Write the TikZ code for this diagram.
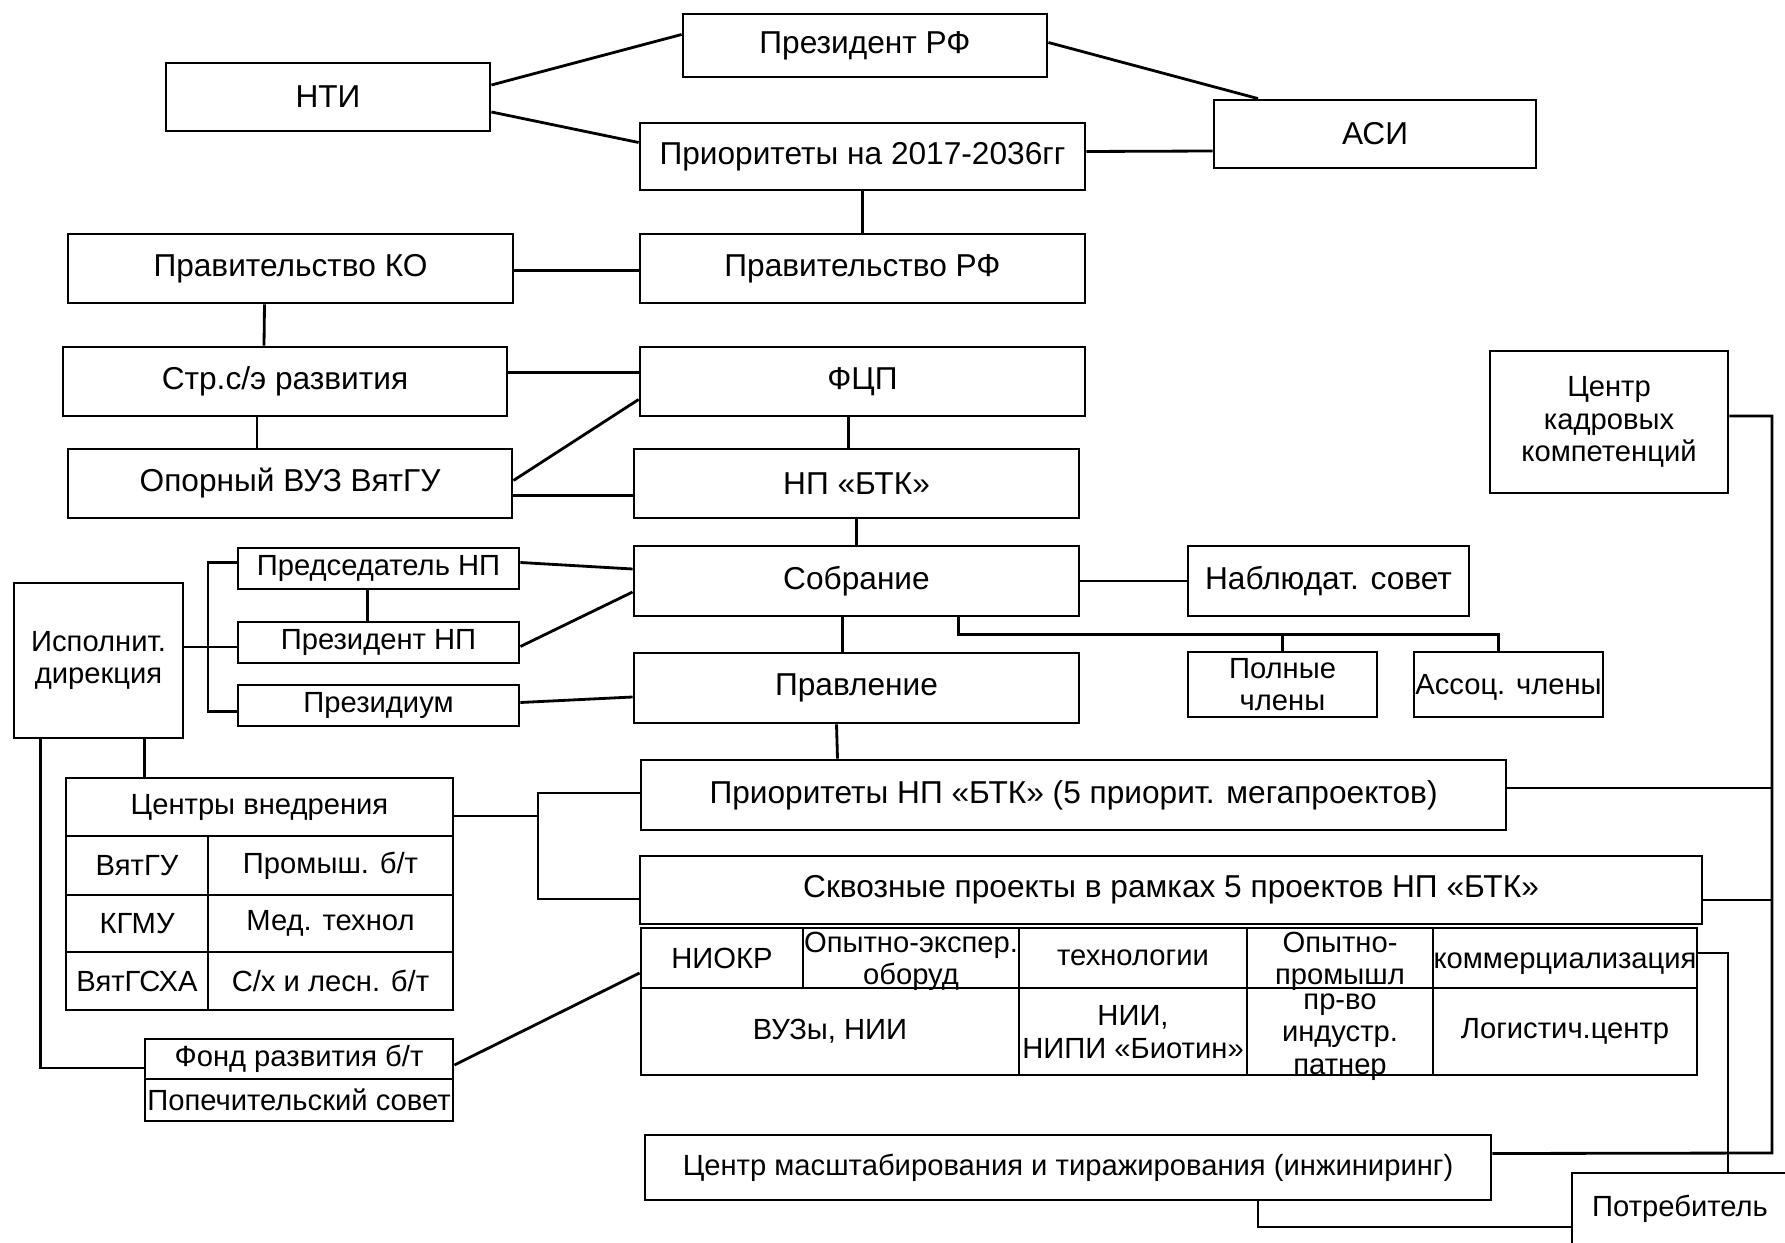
\documentclass[tikz,border=0pt]{standalone}
\usepackage{fontspec}
\setmainfont{Liberation Sans}
\usetikzlibrary{calc}

\newcommand{\celltxt}[1]{\makebox[0pt]{\raisebox{0pt}[0.75em][0pt]{\begin{tabular}{@{}c@{}}#1\end{tabular}}}}

\tikzset{
	blk/.style = {draw, line width=0.8pt, inner sep=0pt, align=center, font=\fontsize{9}{10.5}\selectfont},
	sblk/.style = {blk, font=\fontsize{8.3}{9.3}\selectfont},
	sz/.style 2 args = {minimum width=#1*0.01cm, minimum height=#2*0.01cm},
	every path/.append style = {line width=0.8pt}
}

\begin{document}
\begin{tikzpicture}[x=0.01cm, y=-0.01cm]
	\useasboundingbox (0,0) rectangle (1785,1243);
	\node[blk, sz={364}{63}] (prezRF) at (865,45.5) {Президент РФ};
	\node[blk, sz={324}{68}] (nti) at (328,97) {НТИ};
	\node[blk, sz={445}{67}] (prio) at (862.5,156.5) {Приоритеты на 2017-2036гг};
	\node[blk, sz={322}{68}] (asi) at (1375,134) {АСИ};
	\node[blk, sz={445}{69}] (pravKO) at (290.5,268.5) {Правительство КО};
	\node[blk, sz={445}{69}] (pravRF) at (862.5,268.5) {Правительство РФ};
	\node[blk, sz={444}{69}] (strat) at (285,381.5) {Стр.с/э развития};
	\node[blk, sz={445}{69}] (fcp) at (862.5,381.5) {ФЦП};
	\node[blk, sz={444}{69}] (vuz) at (290,483.5) {Опорный ВУЗ ВятГУ};
	\node[blk, sz={445}{69}] (npbtk) at (856.5,483.5) {НП «БТК»};
	\node[sblk, sz={238}{142}] (kadr) at (1609,422) {Центр\\кадровых\\компетенций};
	\node[sblk, sz={281}{41}] (pred) at (378.5,568.5) {Председатель НП};
	\node[blk, sz={445}{70}] (sobr) at (856.5,581) {Собрание};
	\node[blk, sz={281}{70}] (nabl) at (1328.5,581) {Наблюдат. совет};
	\node[sblk, sz={169}{155}] (ispol) at (98.5,660.5) {Исполнит.\\дирекция};
	\node[sblk, sz={281}{41}] (prezNP) at (378.5,642.5) {Президент НП};
	\node[sblk, sz={281}{41}] (prezid) at (378.5,705.5) {Президиум};
	\node[blk, sz={445}{70}] (pravl) at (856.5,688) {Правление};
	\node[sblk, sz={189}{65}] (poln) at (1282.5,684.5) {Полные\\члены};
	\node[sblk, sz={189}{65}] (assoc) at (1508.5,684.5) {\celltxt{Ассоц. члены}};
	\node[blk, sz={865}{70}] (prioNP) at (1073.5,795) {Приоритеты НП «БТК» (5 приорит. мегапроектов)};
	\node[blk, sz={1062}{68}] (skvoz) at (1171,890) {Сквозные проекты в рамках 5 проектов НП «БТК»};
	\node[sblk, sz={846}{65}] (masht) at (1068,1167.5) {Центр масштабирования и тиражирования (инжиниринг)};
	\node[sblk, sz={216}{72}] (potreb) at (1680,1209) {Потребитель};
	% centres table
	\node[sblk, sz={387}{58}] (cvh) at (259.5,807) {Центры внедрения};
	\node[sblk, sz={142}{59}] (vgu) at (137,865.5) {ВятГУ};
	\node[sblk, sz={245}{59}] (prom) at (330.5,865.5) {Промыш. б/т};
	\node[sblk, sz={142}{57}] (kgmu) at (137,923.5) {КГМУ};
	\node[sblk, sz={245}{57}] (med) at (330.5,923.5) {Мед. технол};
	\node[sblk, sz={142}{58}] (vgsha) at (137,981) {ВятГСХА};
	\node[sblk, sz={245}{58}] (sh) at (330.5,981) {С/х и лесн. б/т};
	\node[sblk, sz={308}{40}] (fond) at (299,1059) {Фонд развития б/т};
	\node[sblk, sz={308}{42}] (popech) at (299,1100) {\celltxt{Попечительский совет}};
	% projects table
	\node[sblk, sz={162}{60}] (niokr) at (722,958) {НИОКР};
	\node[sblk, sz={216}{60}] (opyt) at (911,958) {\celltxt{Опытно-экспер.\\оборуд}};
	\node[sblk, sz={228}{60}] (tech) at (1133,958) {технологии};
	\node[sblk, sz={186}{60}] (opprom) at (1340,958) {\celltxt{Опытно-\\промышл}};
	\node[sblk, sz={264}{60}] (kom) at (1565,958) {\celltxt{коммерциализация}};
	\node[sblk, sz={378}{87}] (vuzy) at (830,1031.5) {ВУЗы, НИИ};
	\node[sblk, sz={228}{87}] (nii) at (1133,1031.5) {\celltxt{НИИ,\\НИПИ «Биотин»}};
	\node[sblk, sz={186}{87}] (prvo) at (1340,1031.5) {\celltxt{пр-во\\индустр.\\патнер}};
	\node[sblk, sz={264}{87}] (logist) at (1565,1031.5) {Логистич.центр};

	\coordinate (spine) at (208,647);
	\coordinate (jn) at (538,816);
	\coordinate (rail) at (1772,1153);

	\draw ($(nti.east)+(0,-12)$) -- ($(prezRF.west)+(0,-11)$);
	\draw ($(nti.east)+(0,15)$) -- ($(prio.west)+(0,-14)$);
	\draw ($(prezRF.east)+(0,-3)$) -- ($(asi.north)+(-117,0)$);
	\draw ($(prio.east)+(0,-5)$) -- ($(asi.west)+(0,17)$);
	\draw (prio.south) -- (pravRF.north);
	\draw ($(pravKO.east)+(0,2)$) -- ($(pravRF.west)+(0,2)$);
	\draw ($(pravKO.south)+(-26,0)$) -- ($(strat.north)+(-21,0)$);
	\draw ($(strat.east)+(0,-9)$) -- ($(fcp.west)+(0,-9)$);
	\draw ($(strat.south)+(-28,0)$) -- ($(vuz.north)+(-33,0)$);
	\draw ($(vuz.east)+(0,-3)$) -- ($(fcp.west)+(0,18)$);
	\draw ($(vuz.east)+(0,12)$) -- ($(npbtk.west)+(0,12)$);
	\draw ($(fcp.south)+(-14,0)$) -- ($(npbtk.north)+(-8,0)$);
	\draw (npbtk.south) -- (sobr.north);
	\draw ($(pred.east)+(0,-6)$) -- ($(sobr.west)+(0,-12)$);
	\draw ($(prezNP.east)+(0,4)$) -- ($(sobr.west)+(0,11)$);
	\draw ($(prezid.east)+(0,-3)$) -- ($(pravl.west)+(0,9)$);
	\draw ($(pred.south)+(-11,0)$) -- ($(prezNP.north)+(-11,0)$);
	\draw ($(pred.west)+(0,-6)$) -| (spine) |- ($(prezid.west)+(0,6)$);
	\draw (ispol.east |- spine) -- ($(prezNP.west)+(0,4.5)$);
	\draw ($(sobr.south)+(-14,0)$) -- ($(pravl.north)+(-14,0)$);
	\draw (sobr.east) -- (nabl.west);
	\draw ($(sobr.south)+(102,0)$) |- ($(assoc.north)+(-10,-16)$) -- ($(assoc.north)+(-10,0)$);
	\draw (poln.north) -- ($(poln.north)+(0,-16)$);
	\draw ($(pravl.south)+(-20,0)$) -- ($(prioNP.north)+(-236,0)$);
	\draw ($(ispol.south)+(46,0)$) -- ($(cvh.north)+(-115,0)$);
	\draw ($(ispol.south)+(-58,0)$) |- ($(fond.west)+(0,9)$);
	\draw ($(fond.east)+(0,6)$) -- ($(niokr.west)+(0,15)$);
	\draw ($(cvh.east)+(0,9)$) -- (jn);
	\draw ($(prioNP.west)+(0,-2)$) -| (jn) |- ($(skvoz.west)+(0,9)$);
	\draw ($(kadr.east)+(0,-6)$) -| (rail) -- ($(masht.east)+(0,-14)$);
	\draw ($(prioNP.east)+(0,-7)$) coordinate (a) -- (a -| rail);
	\draw ($(skvoz.east)+(0,10)$) coordinate (b) -- (b -| rail);
	\draw ($(kom.east)+(0,-5)$) -| ($(potreb.north)+(48,0)$);
	\draw ($(masht.south)+(190,0)$) |- ($(potreb.west)+(0,18)$);
\end{tikzpicture}
\end{document}
